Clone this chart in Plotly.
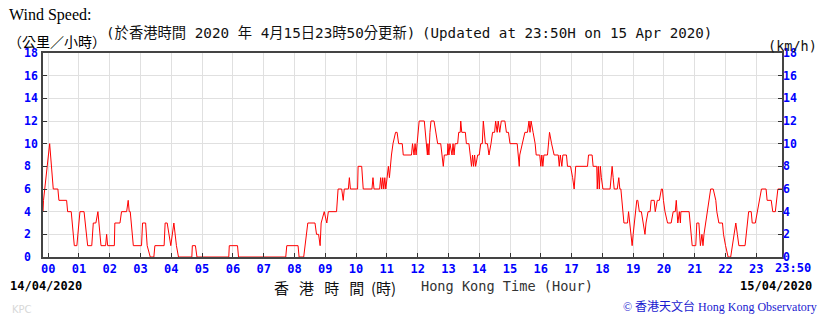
import plotly.graph_objects as go

# ---- data: 10-min mean wind speed (km/h) vs minutes after 00:00 on 15/04/2020 ----
minutes = [
    -10, -9, 3, 10, 19, 21, 36, 38, 45, 51, 56, 62, 70, 77, 85, 88, 93, 97, 99, 103,
    112, 114, 116, 129, 130, 140, 143, 153, 156, 158, 160, 166, 182, 184, 190, 193, 199, 206, 208, 226,
    228, 232, 239, 245, 250, 254, 280, 281, 287, 290,
    352, 353, 369, 371, 463, 465, 487, 489, 498, 501, 506, 520, 523, 527, 530, 532, 538, 543, 546, 562,
    565, 572, 575, 577, 585, 587, 589, 603, 604, 611, 614, 631, 633, 635, 646, 648, 650, 652, 654, 656,
    658, 663, 665, 669, 672, 677, 680, 683, 690, 692, 708, 710,
    713, 715, 717, 719, 723, 733, 735, 736, 739, 740, 742, 744, 746, 752, 755, 759, 765, 767, 770, 772,
    778, 779, 781, 783, 787, 789, 791, 793, 798, 800, 803, 804, 806, 813, 815, 820, 823, 825, 827, 829,
    831, 833, 837, 840, 843, 846, 848, 852, 856, 859, 863, 866, 870, 872, 875, 877, 880, 883, 890, 893,
    897, 900, 914, 916, 918, 919, 924, 929, 934, 937, 939, 941, 945, 949, 951, 958, 960, 962, 964, 966,
    973, 977, 981, 986, 994, 996, 998, 1001, 1003, 1010, 1012, 1018, 1022, 1025, 1028, 1051, 1053, 1060, 1062, 1069,
    1070, 1072, 1074, 1076, 1078, 1081, 1095, 1099, 1101, 1103, 1109, 1112, 1114, 1116, 1122, 1129, 1131, 1133, 1135, 1138,
    1140, 1142, 1144, 1147, 1149, 1152, 1156, 1159, 1163, 1165, 1169, 1173, 1175, 1181, 1183, 1187, 1191, 1195, 1197, 1199,
    1202, 1207, 1214, 1218, 1222, 1224, 1226, 1227, 1230, 1232, 1233, 1249, 1251, 1255, 1262, 1264, 1268, 1270, 1271, 1274,
    1276, 1278, 1281, 1284, 1288, 1291, 1296, 1301, 1303, 1307, 1314, 1316, 1320, 1325, 1330, 1333, 1336, 1340, 1343, 1346,
    1358, 1360, 1362, 1365, 1370, 1372, 1378, 1382, 1386, 1390, 1399, 1401, 1409, 1412, 1417, 1419, 1422, 1430,
]
speed_kmh = [
    4, 5, 10, 6, 6, 5, 5, 4, 4, 1, 1, 4, 4, 1, 1, 3, 3, 4, 3, 1,
    1, 2, 1, 1, 3, 3, 4, 4, 5, 4, 4, 1, 1, 3, 3, 1, 0, 0, 1, 1,
    3, 3, 1, 3, 1, 0, 0, 1, 1, 0,
    0, 1, 1, 0, 0, 1, 1, 0, 0, 1, 3, 3, 2, 2, 1, 3, 4, 3, 4, 4,
    6, 6, 5, 6, 6, 7, 6, 6, 8, 8, 6, 6, 7, 6, 6, 7, 6, 7, 6, 7,
    6, 8, 7, 9, 10, 11, 11, 10, 10, 9, 9, 10,
    9, 10, 9, 10, 12, 12, 11, 10, 9, 10, 9, 11, 12, 12, 11, 10, 10, 9, 8, 9,
    9, 10, 9, 10, 9, 10, 9, 10, 10, 11, 11, 12, 11, 11, 10, 10, 9, 8, 9, 8,
    9, 8, 9, 9, 10, 10, 12, 10, 10, 9, 10, 11, 11, 12, 11, 12, 11, 12, 12, 11,
    11, 10, 10, 9, 8, 9, 10, 11, 11, 12, 11, 12, 11, 10, 9, 9, 8, 9, 8, 9,
    9, 11, 10, 9, 9, 8, 9, 8, 9, 9, 8, 8, 7, 6, 8, 8, 9, 9, 8, 8,
    6, 8, 6, 8, 7, 6, 6, 8, 7, 6, 6, 7, 6, 6, 3, 3, 4, 3, 2, 1,
    2, 3, 4, 5, 5, 4, 4, 3, 2, 3, 4, 4, 5, 5, 4, 5, 5, 6, 6, 5,
    4, 3, 3, 4, 4, 5, 4, 3, 4, 3, 4, 4, 3, 1, 1, 3, 3, 2, 1, 2,
    1, 2, 3, 4, 5, 6, 6, 5, 4, 3, 3, 2, 1, 0, 0, 1, 2, 3, 2, 1,
    1, 2, 3, 4, 4, 3, 3, 4, 5, 6, 6, 5, 5, 4, 4, 5, 6, 6,
]

hour_ticks = [h * 60 for h in range(24)] + [1430]
hour_labels = ["%02d" % h for h in range(24)] + [""]
end_label = "23:50"
y_ticks = list(range(0, 19, 2))
y_labels_left = [("%d" % v) if v >= 10 else ("%d\u00a0" % v) for v in y_ticks]
y_labels_right = ["%d" % v for v in y_ticks]

# ---- layout geometry ----
W, H = 819, 318
L, R, T, B = 43, 37, 53, 61
PW, PH = W - L - R, H - T - B


def px(x):
    return (x - L) / PW


def py(y):
    return (T + PH - y) / PH


BLUE = "#0000ff"
tickfont = dict(family="DejaVu Sans Mono", size=12, color=BLUE, weight="bold")
ytickfont = dict(family="DejaVu Sans Mono", size=11.5, color=BLUE, weight="bold")

fig = go.Figure()
fig.add_trace(go.Scatter(x=minutes, y=speed_kmh, mode="lines",
                         line=dict(color="#ff0000", width=1), hoverinfo="skip",
                         showlegend=False))
fig.add_trace(go.Scatter(x=[minutes[0]], y=[0], yaxis="y2", mode="markers",
                         marker=dict(opacity=0), hoverinfo="skip", showlegend=False))

fig.update_layout(
    width=W, height=H,
    margin=dict(l=L, r=R, t=T, b=B, pad=0),
    paper_bgcolor="white", plot_bgcolor="white",
    xaxis=dict(range=[-10, 1430], tickvals=hour_ticks, ticktext=hour_labels,
               tickfont=tickfont, ticks="inside", ticklen=4, tickcolor="#333",
               showgrid=True, gridcolor="#e0e0e0", gridwidth=1,
               showline=True, linecolor="#444", linewidth=1.5, mirror=True,
               zeroline=False, tickangle=0),
    yaxis=dict(range=[0, 18], tickvals=y_ticks, ticktext=y_labels_left,
               tickfont=ytickfont,
               ticks="inside", ticklen=4, tickcolor="#333",
               showgrid=True, gridcolor="#e0e0e0", gridwidth=1,
               showline=True, linecolor="#444", linewidth=1.5, mirror=True,
               zeroline=False, ticklabelstandoff=1),
    yaxis2=dict(range=[0, 18], tickvals=y_ticks, ticktext=y_labels_right,
                overlaying="y", side="right", matches="y",
                tickfont=ytickfont,
                ticks="inside", ticklen=4, tickcolor="#333",
                showgrid=False, zeroline=False, showline=False),
)

ann = []


def text(x, y, s, size, family, color="#000", anchor="left", weight="normal"):
    ann.append(dict(x=px(x), y=py(y), xref="paper", yref="paper", text=s,
                    showarrow=False, xanchor=anchor, yanchor="middle",
                    font=dict(size=size, family=family, color=color, weight=weight)))


NB = "\u00a0"
text(7, 15, "Wind Speed:", 16, "Liberation Serif")
text(6, 41, "（公里／小時）", 14, "Noto Sans CJK TC")
text(104, 33, "(於香港時間 2020 年 4月15日23時50分更新)", 14.3,
     "DejaVu Sans Mono, Noto Sans CJK TC", color="#111")
text(420, 33, "(Updated at 23:50H on 15 Apr 2020)", 14.2, "DejaVu Sans Mono", color="#111")
text(766, 46, "(km/h)", 13.5, "DejaVu Sans Mono", color="#111")
text(773, 268, end_label, 12, "DejaVu Sans Mono", color=BLUE, weight="bold")
text(8, 286, "14/04/2020", 12, "DejaVu Sans Mono", weight="bold")
text(272, 287, ("香" + NB * 3 + "港" + NB * 3 + "時" + NB * 3 + "間" + NB * 2 + "(時)"), 15,
     "Noto Sans CJK TC", color="#111")
text(419, 286, "Hong Kong Time (Hour)", 13.6, "DejaVu Sans Mono", color="#333")
text(814, 286, "15/04/2020", 12, "DejaVu Sans Mono", anchor="right", weight="bold")
text(621, 306, "© 香港天文台 Hong Kong Observatory", 12,
     "Liberation Serif, Noto Sans CJK TC", color="#1a1ad0")
text(10, 309, "KPC", 10, "DejaVu Sans", color="#d8d8d8")

fig.update_layout(annotations=ann)
fig.write_html("out.html")
